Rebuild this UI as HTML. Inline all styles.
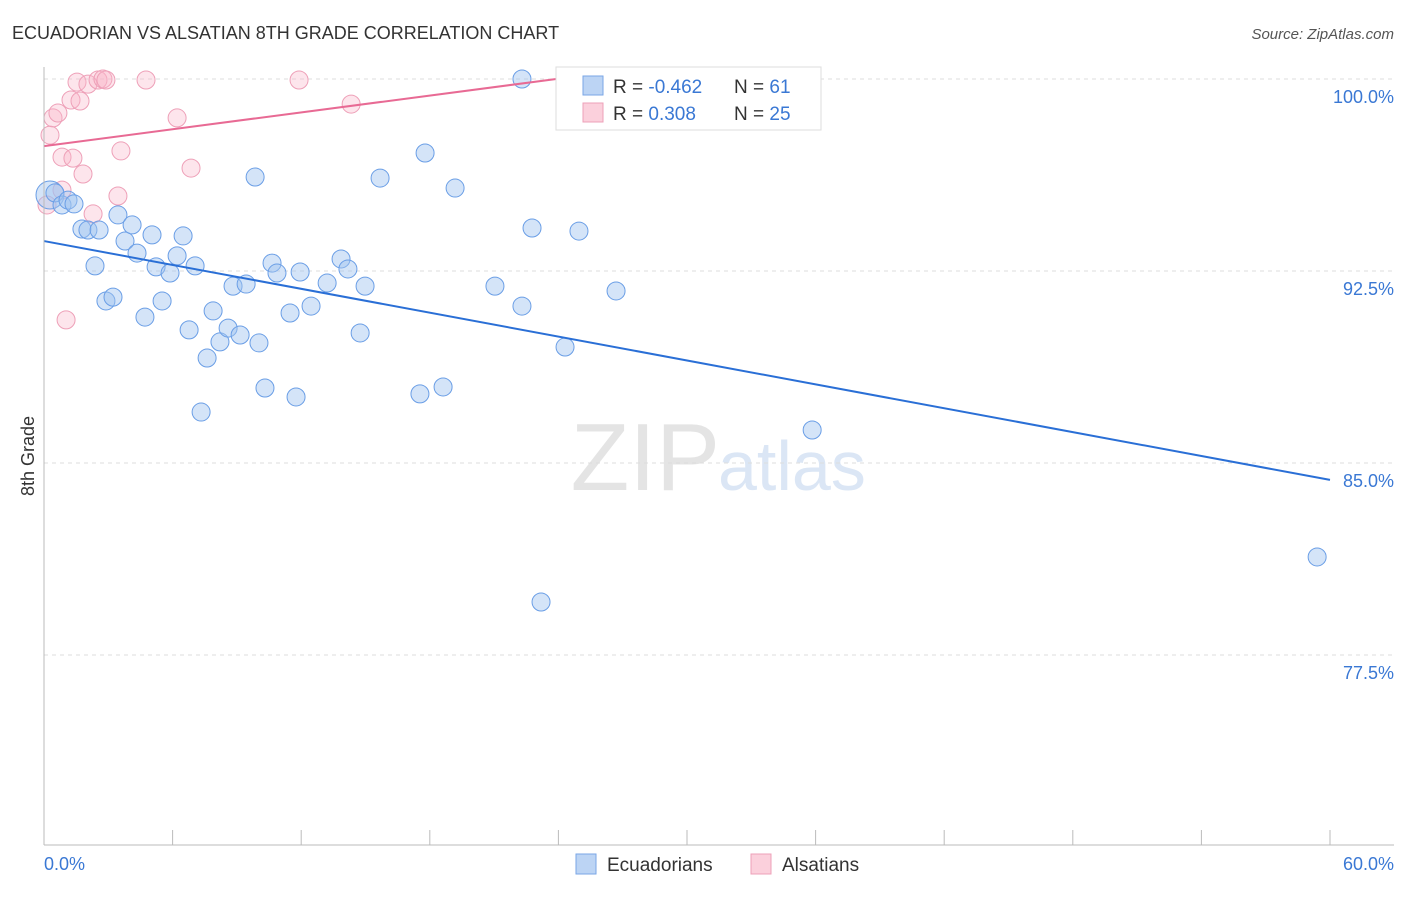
<!DOCTYPE html>
<html><head><meta charset="utf-8"><style>
body{margin:0;background:#fff;font-family:"Liberation Sans",sans-serif;}
svg text{font-family:"Liberation Sans",sans-serif;}
</style></head><body>
<svg id="chart" width="1406" height="892" xmlns="http://www.w3.org/2000/svg">
<text x="12" y="39" font-size="18" fill="#333">ECUADORIAN VS ALSATIAN 8TH GRADE CORRELATION CHART</text>
<text x="1394" y="39" font-size="15" fill="#555" font-style="italic" text-anchor="end">Source: ZipAtlas.com</text>
<text transform="translate(34,456) rotate(-90)" font-size="18" fill="#333" text-anchor="middle">8th Grade</text>
<text x="720" y="490" font-size="96" fill="#e4e4e4" text-anchor="end" font-family="Liberation Serif">ZIP</text>
<text x="718" y="490" font-size="70" fill="#dbe6f5">atlas</text>
<g id="grid"></g><g id="pts"></g><g id="lines"></g>
<line x1="44" y1="67" x2="44" y2="845" stroke="#bbb"/>
<line x1="44" y1="845" x2="1394" y2="845" stroke="#bbb"/>
<g id="xticks"></g>
<text x="44" y="870" font-size="18" fill="#3a78d4">0.0%</text>
<text x="1394" y="870" font-size="18" fill="#3a78d4" text-anchor="end">60.0%</text>
<g>
<rect x="556" y="67" width="265" height="63" fill="#fff" stroke="#ddd"/>
<rect x="583" y="76" width="20" height="19" fill="#bcd4f4" stroke="#7aa6e6"/>
<rect x="583" y="103" width="20" height="19" fill="#fbd0dc" stroke="#eea0b8"/>
<text x="613" y="93" font-size="19" fill="#333">R = <tspan fill="#3a78d4">-0.462</tspan></text>
<text x="734" y="93" font-size="19" fill="#333">N = <tspan fill="#3a78d4">61</tspan></text>
<text x="613" y="120" font-size="19" fill="#333">R = <tspan fill="#3a78d4"> 0.308</tspan></text>
<text x="734" y="120" font-size="19" fill="#333">N = <tspan fill="#3a78d4">25</tspan></text>
</g>
<g>
<rect x="576" y="854" width="20" height="20" fill="#bcd4f4" stroke="#7aa6e6"/>
<text x="607" y="871" font-size="19" fill="#333">Ecuadorians</text>
<rect x="751" y="854" width="20" height="20" fill="#fbd0dc" stroke="#eea0b8"/>
<text x="782" y="871" font-size="19" fill="#333">Alsatians</text>
</g>
</svg>
<script>
const yTicks=[100,92.5,85,77.5];
const yTickLabels=["100.0%","92.5%","85.0%","77.5%"];
const xTicks=[0,6,12,18,24,30,36,42,48,54,60];
const blueX=[0.28,0.51,0.84,1.12,1.40,1.77,2.05,2.57,2.38,2.89,3.22,3.45,3.78,4.11,4.34,4.71,5.04,5.23,5.51,5.88,6.21,6.49,6.77,7.05,7.33,7.61,7.89,8.21,8.59,8.82,9.15,9.43,9.85,10.03,10.31,10.64,10.87,11.48,11.76,11.95,12.46,13.21,13.86,14.18,14.75,14.98,15.68,17.54,17.78,18.62,19.18,21.04,22.30,22.30,22.77,23.19,24.31,24.96,26.69,35.84,59.40];
const blueY=[95.47,95.55,95.08,95.27,95.12,94.14,94.10,94.10,92.70,91.33,91.48,94.69,93.67,94.30,93.20,90.70,93.91,92.66,91.33,92.42,93.09,93.87,90.20,92.70,86.99,89.10,90.94,89.73,90.27,91.91,90.00,91.99,96.17,89.69,87.93,92.81,92.42,90.86,87.58,92.46,91.13,92.03,92.97,92.58,90.08,91.91,96.13,87.70,97.11,87.97,95.74,91.91,91.13,100,94.18,79.57,89.53,94.06,91.72,86.29,81.33];
const pinkX=[0.14,0.28,0.42,0.65,0.84,1.26,1.35,1.54,1.68,1.82,2.05,2.29,2.52,2.75,2.89,3.45,3.59,4.76,6.21,6.86,11.90,14.33,31.13,0.84,1.03];
const pinkY=[95.08,97.81,98.48,98.67,96.95,99.18,96.91,99.88,99.14,96.29,99.80,94.73,99.96,100,99.96,95.43,97.19,99.96,98.48,96.52,99.96,99.02,99.96,95.66,90.59];
const blueTrend=[93.67,84.34];
const pinkTrend=[97.38,100];
const X=v=>44+v/60*1286;
const Y=v=>79+(100-v)/7.5*192;
const NS="http://www.w3.org/2000/svg";
function mk(tag,attrs,parent){const e=document.createElementNS(NS,tag);for(const k in attrs)e.setAttribute(k,attrs[k]);document.getElementById(parent).appendChild(e);return e;}
yTicks.forEach((t,i)=>{
 const l=mk('line',{x1:44,x2:1394,y1:Y(t),y2:Y(t),stroke:'#ddd','stroke-dasharray':'4,4'},'grid');
 
 
 const tx=mk('text',{x:1394,y:Y(t)+24,'font-size':18,fill:'#3a78d4','text-anchor':'end'},'grid');
 tx.textContent=yTickLabels[i];
 
 
});
xTicks.forEach(t=>{
 const l=mk('line',{x1:X(t),x2:X(t),y1:830,y2:845,stroke:'#bbb'},'xticks');
 
 
});
pinkX.forEach((x,i)=>{
 const c=mk('circle',{cx:X(x),cy:Y(pinkY[i]),r:9,fill:'rgba(248,180,200,0.35)',stroke:'#eea0b8','stroke-width':1},'pts');
 
 
});
blueX.forEach((x,i)=>{
 const c=mk('circle',{cx:X(x),cy:Y(blueY[i]),r:i===0?14:9,fill:'rgba(160,196,240,0.45)',stroke:'#6a9ee6','stroke-width':1},'pts');
 
 
});
const bl=mk('line',{x1:X(0),y1:Y(blueTrend[0]),x2:X(60),y2:Y(blueTrend[1]),stroke:'#2a6fd6','stroke-width':2},'lines');


const pEnd=(100-pinkTrend[0])/(pinkTrend[1]-pinkTrend[0])*23.9;
const pl=mk('line',{x1:X(0),y1:Y(pinkTrend[0]),x2:X(23.9),y2:Y(pinkTrend[1]),stroke:'#e86a94','stroke-width':2},'lines');


</script>
</body></html>
